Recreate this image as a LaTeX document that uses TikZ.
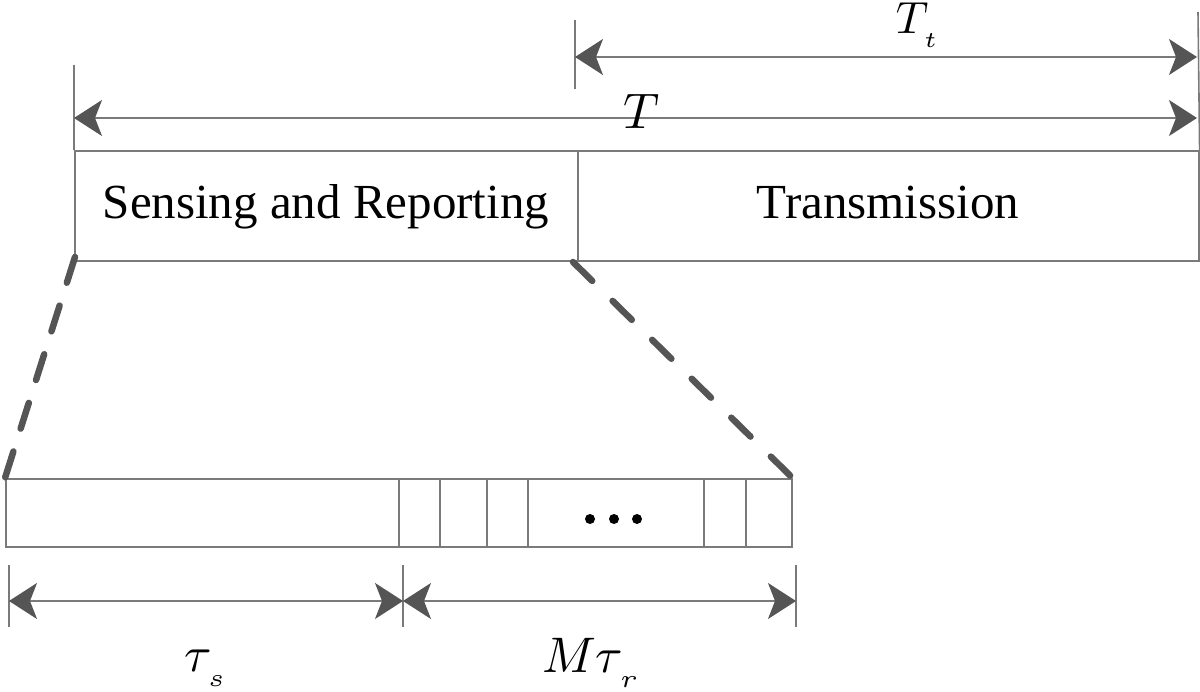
\documentclass[tikz,border=0pt]{standalone}
\usepackage{fontspec}
\setmainfont{Liberation Serif}
\usetikzlibrary{arrows.meta}
\definecolor{linegray}{HTML}{7A7A7A}
\definecolor{tipgray}{HTML}{555555}
\newcommand{\lowsub}[1]{_{\raisebox{-1.6pt}{$\scriptscriptstyle\mkern1mu #1$}}}
\tikzset{
  thinline/.style={draw=linegray, line width=1.6pt},
  dimarrow/.style={thinline, {Stealth[length=28pt, width=36pt, inset=7pt, color=tipgray]}-{Stealth[length=28pt, width=36pt, inset=7pt, color=tipgray]}},
  zoomline/.style={draw=tipgray, line width=6.5pt, line cap=round},
  cell/.style={thinline, rectangle, inner sep=0pt, minimum height=68pt, anchor=north west},
  lbl/.style={font=\fontsize{49}{54}\selectfont, anchor=base, inner sep=0pt},
  mlbl/.style={inner sep=0pt, scale=5, anchor=base west}
}
\begin{document}
\begin{tikzpicture}[x=1pt,y=-1pt]
\useasboundingbox (0,0) rectangle (1200,692);
% top boxes
\node[thinline, rectangle, inner sep=0pt, minimum width=503pt, minimum height=110pt, anchor=north west] (sr) at (74,150) {};
\node[thinline, rectangle, inner sep=0pt, minimum width=621pt, minimum height=110pt, anchor=north west] (tx) at (577,150) {};
\node[lbl] (srt) at (326,219) {Sensing and Reporting};
\node[lbl] (txt) at (888,219) {Transmission};
% ticks
\coordinate (tl1) at (74,65);
\coordinate (tt1) at (575,20);
\coordinate (tt2) at (575,89);
\coordinate (tr1) at (1198,12);
\draw[thinline] (tl1) -- (sr.north west);
\draw[thinline] (tt1) -- (tt2);
\draw[thinline] (tr1) -- (tx.north east);
% dimension arrows top
\coordinate (ta) at (575,57);
\coordinate (tb) at (1197,57);
\draw[dimarrow] (ta) -- (tb);
\coordinate (Ta) at (74,118);
\coordinate (Tb) at (1197,118);
\draw[dimarrow] (Ta) -- (Tb);
\node[mlbl, scale=0.9] (Ttl) at (895,34) {$T\lowsub{t}$};
\node[mlbl] (Tl) at (622,129) {$T$};
% bottom bar
\node[cell, minimum width=393pt] (c0) at (5,478) {};
\node[cell, minimum width=41pt] (c1) at (398,478) {};
\node[cell, minimum width=47pt] (c2) at (439,478) {};
\node[cell, minimum width=41pt] (c3) at (486,478) {};
\node[cell, minimum width=176pt] (c4) at (527,478) {};
\node[cell, minimum width=42pt] (c5) at (703,478) {};
\node[cell, minimum width=46pt] (c6) at (745,478) {};
\fill[black] (590,519) circle (5pt) (614,519) circle (5pt) (637,519) circle (5pt);
% zoom lines
\coordinate (zl) at (75,257);
\coordinate (zr) at (573,262);
\draw[zoomline, dash pattern=on 27pt off 24pt] (zl) -- (c0.north west);
\draw[zoomline, dash pattern=on 27pt off 28.5pt] (zr) -- (c6.north east);
% bottom ticks and arrows
\coordinate (b1t) at (9,565); \coordinate (b1b) at (9,627);
\coordinate (b2t) at (403,565); \coordinate (b2b) at (403,627);
\coordinate (b3t) at (796,565); \coordinate (b3b) at (796,627);
\draw[thinline] (b1t) -- (b1b);
\draw[thinline] (b2t) -- (b2b);
\draw[thinline] (b3t) -- (b3b);
\coordinate (a1) at (9,601); \coordinate (a2) at (403,601); \coordinate (a3) at (796,601);
\draw[dimarrow] (a1) -- (a2);
\draw[dimarrow] (a2) -- (a3);
\node[mlbl] (tsl) at (183,671) {$\tau\lowsub{s}$};
\node[mlbl] (mtl) at (541,672) {$M\tau\lowsub{r}$};
\end{tikzpicture}
\end{document}
